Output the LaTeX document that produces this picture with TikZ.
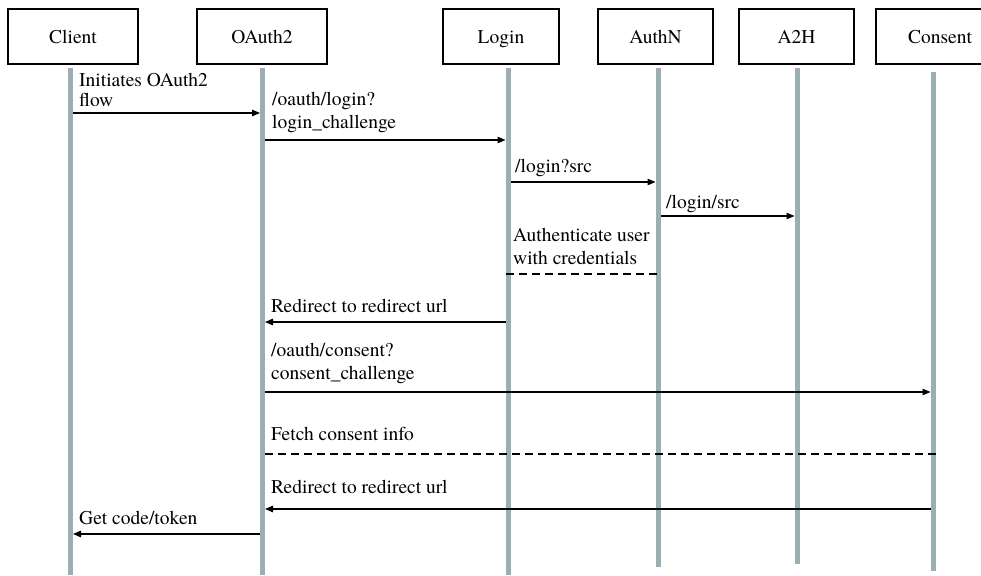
\documentclass[tikz,border=0pt]{standalone}
\usepackage{fontspec}
\setmainfont{TeX Gyre Termes}
\usetikzlibrary{arrows.meta}
\definecolor{life}{HTML}{9BAEB3}
\newcommand\lbl{\fontsize{19.5}{23}\selectfont}
\newcommand\lbltight{\fontsize{19.5}{19}\selectfont}
\tikzset{
  actor/.style={draw=black, line width=1.1pt, minimum height=55pt, inner sep=0pt,
                text height=13.5pt, text depth=0pt, font=\lbl},
  lifeline/.style={draw=life, line width=5pt},
  msg/.style={draw=black, line width=1.1pt, -{Triangle[length=8pt,width=6.5pt]}},
  reply/.style={draw=black, line width=1.1pt, dash pattern=on 8pt off 5pt},
  txt/.style={anchor=base west, inner sep=0pt, font=\lbl},
}
\begin{document}
\begin{tikzpicture}[x=1pt,y=-1pt]
\useasboundingbox (0,0) rectangle (981,575);
\clip (0,0) rectangle (981,575);
\fill[white] (0,0) rectangle (981,575);

% participants
\node[actor, minimum width=130pt] (client)  at (73,36.5)    {Client};
\node[actor, minimum width=130pt] (oauth)   at (262,36.5)   {OAuth2};
\node[actor, minimum width=116pt] (login)   at (501,36.5)   {Login};
\node[actor, minimum width=115pt] (authn)   at (655.5,36.5) {AuthN};
\node[actor, minimum width=115pt] (atoh)    at (796.5,36.5) {A2H};
\node[actor, minimum width=128pt] (consent) at (940,36.5)   {Consent};

% lifelines
\coordinate (clT) at (70.5,68);  \coordinate (clB) at (70.5,575);
\coordinate (oaT) at (262.5,68); \coordinate (oaB) at (262.5,575);
\coordinate (loT) at (508,68);   \coordinate (loB) at (508,575);
\coordinate (anT) at (658,68);   \coordinate (anB) at (658,567);
\coordinate (ahT) at (797,68);   \coordinate (ahB) at (797,564);
\coordinate (coT) at (933,72);   \coordinate (coB) at (933,571);
\draw[lifeline] (clT) -- (clB);
\draw[lifeline] (oaT) -- (oaB);
\draw[lifeline] (loT) -- (loB);
\draw[lifeline] (anT) -- (anB);
\draw[lifeline] (ahT) -- (ahB);
\draw[lifeline] (coT) -- (coB);

% messages
\coordinate (m1a) at (73,113);    \coordinate (m1b) at (260,113);
\coordinate (m2a) at (265,140);   \coordinate (m2b) at (505.5,140);
\coordinate (m3a) at (510.5,182); \coordinate (m3b) at (655.5,182);
\coordinate (m4a) at (660.5,216); \coordinate (m4b) at (794.5,216);
\coordinate (m5a) at (505.5,274); \coordinate (m5b) at (660.5,274);
\coordinate (m6a) at (505.5,322); \coordinate (m6b) at (265,322);
\coordinate (m7a) at (265,392);   \coordinate (m7b) at (930.5,392);
\coordinate (m8a) at (265,454);   \coordinate (m8b) at (937,454);
\coordinate (m9a) at (930.5,509); \coordinate (m9b) at (265,509);
\coordinate (m10a) at (260,534);  \coordinate (m10b) at (73,534);

\draw[msg] (m1a) -- (m1b);
\draw[msg] (m2a) -- (m2b);
\draw[msg] (m3a) -- (m3b);
\draw[msg] (m4a) -- (m4b);
\draw[reply] (m5a) -- (m5b);
\draw[msg] (m6a) -- (m6b);
\draw[msg] (m7a) -- (m7b);
\draw[reply] (m8a) -- (m8b);
\draw[msg] (m9a) -- (m9b);
\draw[msg] (m10a) -- (m10b);

% labels
\node[txt] (t1) at (79,87) {\lbltight\begin{tabular}[t]{@{}l@{}}Initiates OAuth2\\flow\end{tabular}};
\node[txt] (t2) at (272,106) {\begin{tabular}[t]{@{}l@{}}/oauth/login?\\login\_challenge\end{tabular}};
\node[txt] (t3) at (515,172) {/login?src};
\node[txt] (t4) at (666,208) {/login/src};
\node[txt] (t5) at (513,241) {\begin{tabular}[t]{@{}l@{}}Authenticate user\\with credentials\end{tabular}};
\node[txt] (t6) at (271,312) {Redirect to redirect url};
\node[txt] (t7) at (271,356) {\begin{tabular}[t]{@{}l@{}}/oauth/consent?\\consent\_challenge\end{tabular}};
\node[txt] (t8) at (271,440) {Fetch consent info};
\node[txt] (t9) at (271,493) {Redirect to redirect url};
\node[txt] (t10) at (79,524) {Get code/token};
\end{tikzpicture}
\end{document}
